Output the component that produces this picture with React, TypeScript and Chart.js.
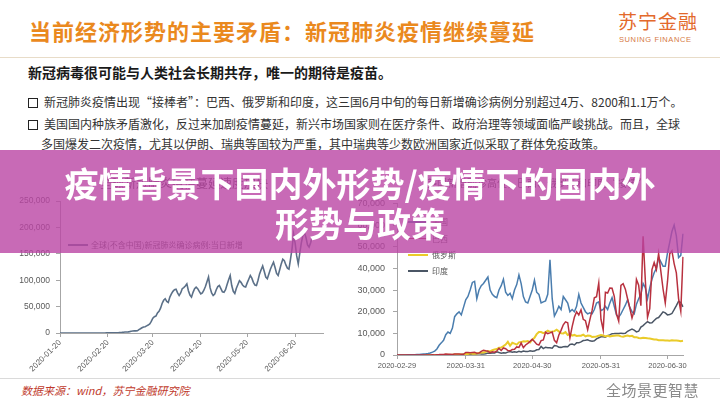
import React, { useEffect, useRef } from 'react';
import { Chart, registerables } from 'chart.js';

Chart.register(...registerables);

// ---------- data ----------
const LEFT_START = '2020-01-20';
const LEFT_END = '2020-07-08';
const LEFT_TICK_DATES = ['2020-01-20', '2020-02-20', '2020-03-20', '2020-04-20', '2020-05-20', '2020-06-20'];
const LEFT_Y_TICKS = [0, 50000, 100000, 150000, 200000, 250000];

// 全球(不含中国)新冠肺炎确诊病例:当日新增, 2020-01-20 .. 2020-07-01
const globalDaily = [
  1, 2, 3, 5, 8, 10, 13, 15, 12, 20,
  25, 30, 20, 15, 18, 25, 30, 35, 45, 20,
  40, 25, 45, 80, 60, 50, 40, 120, 90, 100,
  150, 200, 250, 300, 350, 450, 400, 500, 700, 1000,
  1200, 1500, 1800, 2000, 2200, 2600, 3300, 3700, 4000, 4000,
  4200, 6500, 8000, 10000, 11500, 12000, 13500, 15000, 17000, 22000,
  28000, 31000, 32000, 38000, 41000, 47000, 56000, 62000, 65000, 60000,
  58000, 68000, 74000, 79000, 82000, 83000, 76000, 71000, 76000, 84000,
  86000, 89000, 93000, 80000, 72000, 68000, 77000, 84000, 87000, 84000,
  79000, 74000, 76000, 81000, 88000, 97000, 106000, 86000, 76000, 71000,
  74000, 82000, 88000, 90000, 84000, 78000, 77000, 82000, 92000, 101000,
  109000, 90000, 79000, 75000, 85000, 92000, 99000, 96000, 91000, 88000,
  87000, 95000, 102000, 109000, 104000, 96000, 91000, 90000, 100000, 112000,
  120000, 127000, 117000, 106000, 103000, 112000, 121000, 128000, 134000, 124000,
  113000, 109000, 120000, 131000, 140000, 137000, 129000, 123000, 121000, 140000,
  160000, 187000, 170000, 146000, 131000, 152000, 171000, 185000, 190000, 181000,
  167000, 163000, 171000, 182000,
];

const RIGHT_START = '2020-02-29';
const RIGHT_END = '2020-07-07';
const RIGHT_TICK_DATES = ['2020-02-29', '2020-03-31', '2020-04-30', '2020-05-31', '2020-06-30'];
const RIGHT_Y_TICKS = [0, 10000, 20000, 30000, 40000, 50000, 60000, 70000];

const usDaily = [
  10,
  15, 20, 25, 30, 60, 80, 100, 120, 180, 250, 350, 450, 550, 700, 900, 1300, 1800, 2800, 4500, 5600,
  6800, 9400, 10600, 10000, 12400, 17700, 19000, 19900, 18500, 22000, 25500,
  27000, 30000, 33500, 34000, 26000, 30000, 32000, 33000, 34500, 36000,
  30000, 28000, 27000, 26500, 30000, 32000, 35000, 29000, 27500, 28500,
  26000, 30000, 32500, 37000, 33000, 27000, 24500, 24000, 27000, 30000,
  34500, 29000, 28000, 24000, 24500, 25000, 28000, 44000, 26000, 18000,
  20000, 22500, 21000, 27000, 25500, 24000, 20000, 21000, 20000, 22500,
  28000, 24000, 22000, 20000, 19000, 19500, 19000, 21000, 24000, 24500, 20500,
  21000, 22500, 21000, 24000, 26500, 22500, 18500, 17500, 19000, 21000,
  23000, 25500, 22000, 20000, 19000, 23500, 26000, 28000, 33000, 31000,
  26000, 31000, 35000, 38000, 40000, 45000, 43000, 41000, 41000, 47000,
  52000, 57000, 60000, 55000, 45000, 46000, 56000,
];

const brazilDaily = [
  0,
  0, 0, 0, 0, 4, 5, 6, 5, 5, 10, 14, 20, 46, 30, 41, 66, 57, 137, 193, 283,
  224, 418, 345, 310, 232, 482, 502, 487, 352, 323, 1138,
  1119, 1074, 1146, 1222, 852, 926, 1661, 2210, 1930, 1781,
  1089, 1442, 1261, 1832, 3058, 2105, 3257, 2917, 2055, 1927,
  2498, 2678, 3735, 3503, 5514, 3379, 4613, 5385, 6276, 7218,
  6209, 4970, 4588, 6633, 6935, 10503, 9888, 10222, 10611, 6760,
  5632, 9258, 11385, 13944, 15305, 14919, 7938, 13140, 17408, 19951,
  18508, 20803, 16508, 15813, 11687, 16324, 20599, 26417, 26928, 33274, 16409,
  11598, 28936, 28633, 30925, 30830, 27075, 18912, 15654, 32091, 32913,
  30412, 25982, 21704, 17110, 20647, 34918, 32188, 22765, 54771, 34666,
  17459, 21432, 39436, 42725, 39483, 46907, 38693, 30476, 24052, 33846,
  46712, 48105, 42223, 37923, 26051, 20229, 45305,
];

const russiaDaily = [
  0,
  0, 1, 0, 0, 0, 0, 4, 3, 0, 0, 8, 6, 11, 14, 4, 30, 21, 33, 52, 54,
  53, 62, 71, 57, 163, 182, 196, 228, 270, 302, 500,
  440, 771, 601, 582, 658, 954, 1154, 1175, 1459, 1786,
  1667, 2186, 2558, 2774, 3388, 3448, 4070, 4785, 6060, 4268,
  5642, 5236, 4774, 5849, 5966, 6361, 6198, 6411, 5841, 7099,
  7933, 9623, 10633, 10581, 10102, 10559, 11231, 10699, 10817, 11012,
  11656, 10899, 10028, 9974, 10598, 9200, 9709, 8926, 9263, 8764,
  8849, 8894, 9434, 8599, 8946, 8915, 8338, 8371, 8572, 8952, 9268,
  9035, 8536, 8831, 8536, 8726, 8855, 8984, 8985, 8595, 8404,
  8779, 8987, 8706, 8835, 8246, 8248, 7843, 7790, 7972, 7889,
  7728, 7600, 7425, 7176, 7113, 6800, 6852, 6791, 6719, 6693,
  6556, 6760, 6718, 6736, 6611, 6368, 6562,
];

const indiaDaily = [
  0,
  0, 1, 0, 23, 1, 2, 3, 5, 4, 11, 12, 7, 9, 10, 24, 15, 25, 29, 54, 92,
  64, 81, 64, 134, 72, 137, 157, 149, 174, 227, 146,
  437, 235, 478, 525, 505, 704, 508, 485, 591, 896,
  768, 918, 905, 1463, 1118, 826, 1076, 957, 1324, 1580,
  1239, 1537, 1292, 1667, 1408, 1835, 1607, 1568, 1902, 1705,
  1801, 2396, 2564, 3932, 2963, 3587, 3364, 3344, 3113, 4353,
  4213, 3607, 3524, 3763, 3942, 3787, 4864, 5050, 4630, 5611,
  5609, 6088, 6654, 6767, 6977, 6535, 6387, 6566, 7466, 7964, 8380,
  8392, 8171, 8909, 9304, 9851, 9887, 9971, 9983, 9987, 9985,
  9996, 10956, 11458, 11929, 11502, 10667, 10974, 12881, 13586, 14516,
  15413, 14821, 14933, 15968, 16922, 17296, 18552, 19906, 19459, 18522,
  18653, 19148, 20903, 22771, 24850, 24248, 22252,
];

const RIGHT_SERIES = ['美国', '巴西', '俄罗斯', '印度'];
const RIGHT_COLORS = ['#4A7DAE', '#B8313F', '#EACB2A', '#4B5665'];
const LEFT_SERIES = '全球(不含中国)新冠肺炎确诊病例:当日新增';
const LEFT_COLOR = '#5B7088';

// ---------- helpers ----------
function dateRange(start: string, end: string): string[] {
  const out: string[] = [];
  const d = new Date(start + 'T00:00:00Z');
  const e = new Date(end + 'T00:00:00Z');
  while (d <= e) {
    out.push(d.toISOString().slice(0, 10));
    d.setUTCDate(d.getUTCDate() + 1);
  }
  return out;
}

const AXIS_FONT = "'Liberation Sans', 'Noto Sans CJK SC', sans-serif";
const CJK = "'Noto Sans CJK SC', 'Liberation Sans', sans-serif";
const AXIS_COLOR = '#A6A6A6';
const TICK_TEXT = '#595959';

function LeftChart() {
  const ref = useRef<HTMLCanvasElement>(null);
  useEffect(() => {
    const labels = dateRange(LEFT_START, LEFT_END);
    const show = (i: number) => LEFT_TICK_DATES.includes(labels[i]);
    const chart = new Chart(ref.current!, {
      type: 'line',
      data: {
        labels,
        datasets: [
          {
            label: LEFT_SERIES,
            data: globalDaily,
            borderColor: LEFT_COLOR,
            borderWidth: 1.6,
            pointRadius: 0,
            tension: 0,
          },
        ],
      },
      options: {
        animation: false,
        responsive: false,
        devicePixelRatio: 1,
        layout: { padding: { top: 9, right: 17, left: 0, bottom: 0 } },
        plugins: { legend: { display: false }, tooltip: { enabled: false } },
        scales: {
          x: {
            type: 'category',
            offset: false,
            grid: {
              display: true,
              drawOnChartArea: false,
              drawTicks: true,
              tickLength: 4,
              tickColor: (c: any) => (show(c.index) ? AXIS_COLOR : 'rgba(0,0,0,0)'),
            },
            border: { display: true, color: AXIS_COLOR, width: 1 },
            ticks: {
              autoSkip: false,
              maxRotation: 45,
              minRotation: 45,
              padding: 1,
              color: TICK_TEXT,
              font: { family: AXIS_FONT, size: 8 },
              callback: (_v: any, i: number) => (show(i) ? labels[i] : ''),
            },
            afterFit: (s: any) => {
              s.height = 47;
            },
          },
          y: {
            min: 0,
            max: 250000,
            afterBuildTicks: (s: any) => {
              s.ticks = LEFT_Y_TICKS.map((v) => ({ value: v }));
            },
            grid: { drawOnChartArea: false, drawTicks: true, tickLength: 4, tickColor: AXIS_COLOR },
            border: { display: true, color: AXIS_COLOR, width: 1 },
            ticks: {
              padding: 6,
              color: TICK_TEXT,
              font: { family: AXIS_FONT, size: 8.5 },
              callback: (v: any) => Number(v).toLocaleString('en-US'),
            },
            afterFit: (s: any) => {
              s.width = 60;
            },
          },
        },
      },
    } as any);
    return () => chart.destroy();
  }, []);
  return (
    <canvas
      ref={ref}
      width={340}
      height={190}
      style={{ position: 'absolute', left: 0, top: 190, width: 340, height: 190 }}
    />
  );
}

function RightChart() {
  const ref = useRef<HTMLCanvasElement>(null);
  useEffect(() => {
    const labels = dateRange(RIGHT_START, RIGHT_END);
    const show = (i: number) => RIGHT_TICK_DATES.includes(labels[i]);
    const series = [usDaily, brazilDaily, russiaDaily, indiaDaily];
    const widths = [1.5, 1.5, 2, 1.5];
    const chart = new Chart(ref.current!, {
      type: 'line',
      data: {
        labels,
        datasets: series.map((d, k) => ({
          label: RIGHT_SERIES[k],
          data: d,
          borderColor: RIGHT_COLORS[k],
          borderWidth: widths[k],
          pointRadius: 0,
          tension: 0,
          order: k === 1 ? 0 : k + 1,
        })),
      },
      options: {
        animation: false,
        responsive: false,
        devicePixelRatio: 1,
        layout: { padding: { top: 9, right: 37, left: 0, bottom: 0 } },
        plugins: { legend: { display: false }, tooltip: { enabled: false } },
        scales: {
          x: {
            type: 'category',
            offset: false,
            grid: {
              display: true,
              drawOnChartArea: false,
              drawTicks: true,
              tickLength: 4,
              tickColor: (c: any) => (show(c.index) ? AXIS_COLOR : 'rgba(0,0,0,0)'),
            },
            border: { display: true, color: AXIS_COLOR, width: 1 },
            ticks: {
              autoSkip: false,
              maxRotation: 0,
              minRotation: 0,
              padding: 2,
              color: TICK_TEXT,
              font: { family: AXIS_FONT, size: 7.5 },
              callback: (_v: any, i: number) => (show(i) ? labels[i] : ''),
            },
            afterFit: (s: any) => {
              s.height = 25;
            },
          },
          y: {
            min: 0,
            max: 70000,
            afterBuildTicks: (s: any) => {
              s.ticks = RIGHT_Y_TICKS.map((v) => ({ value: v }));
            },
            grid: { drawOnChartArea: false, drawTicks: true, tickLength: 4, tickColor: AXIS_COLOR },
            border: { display: true, color: AXIS_COLOR, width: 1 },
            ticks: {
              padding: 8,
              color: TICK_TEXT,
              font: { family: AXIS_FONT, size: 9 },
              callback: (v: any) => Number(v).toLocaleString('en-US'),
            },
            afterFit: (s: any) => {
              s.width = 57;
            },
          },
        },
      },
    } as any);
    return () => chart.destroy();
  }, []);
  return (
    <canvas
      ref={ref}
      width={380}
      height={190}
      style={{ position: 'absolute', left: 340, top: 190, width: 380, height: 190 }}
    />
  );
}

const abs = (o: React.CSSProperties): React.CSSProperties => ({ position: 'absolute', whiteSpace: 'nowrap', ...o });

function Bullet() {
  return (
    <span
      style={{
        display: 'inline-block',
        width: 8,
        height: 8,
        border: '1.6px solid #222',
        marginRight: 6,
        verticalAlign: '-1px',
      }}
    />
  );
}

export default function App() {
  return (
    <div
      style={{
        position: 'fixed',
        left: 0,
        top: 0,
        width: 720,
        height: 405,
        overflow: 'hidden',
        background: '#ffffff',
        fontFamily: CJK,
      }}
    >
      {/* header */}
      <div style={abs({ left: 29, top: 16, fontSize: 22, lineHeight: '28px', fontWeight: 700, color: '#EA891E', letterSpacing: 1 })}>
        当前经济形势的主要矛盾：新冠肺炎疫情继续蔓延
      </div>
      <div style={abs({ left: 618, top: 10, fontSize: 19, lineHeight: '22px', color: '#E3692B', letterSpacing: 1 })}>苏宁金融</div>
      <div style={abs({ left: 619, top: 35, fontSize: 7.5, lineHeight: '9px', color: '#D67A45', letterSpacing: 0.6, fontFamily: AXIS_FONT })}>
        SUNING FINANCE
      </div>
      <div style={abs({ left: 0, top: 57, width: 720, height: 1, background: '#E8DCC8' })} />

      {/* body text */}
      <div style={abs({ left: 28, top: 63, fontSize: 14, lineHeight: '18px', fontWeight: 700, color: '#1a1a1a' })}>
        新冠病毒很可能与人类社会长期共存，唯一的期待是疫苗。
      </div>
      <div style={abs({ left: 28, top: 93, fontSize: 12, lineHeight: '18px', color: '#333' })}>
        <Bullet />
        新冠肺炎疫情出现“接棒者”：巴西、俄罗斯和印度，这三国6月中旬的每日新增确诊病例分别超过4万、8200和1.1万个。
      </div>
      <div style={abs({ left: 28, top: 115, fontSize: 12, lineHeight: '18px', color: '#333' })}>
        <Bullet />
        美国国内种族矛盾激化，反过来加剧疫情蔓延，新兴市场国家则在医疗条件、政府治理等领域面临严峻挑战。而且，全球
      </div>
      <div style={abs({ left: 41, top: 135, fontSize: 12, lineHeight: '18px', color: '#333' })}>
        多国爆发二次疫情，尤其以伊朗、瑞典等国较为严重，其中瑞典等少数欧洲国家近似采取了群体免疫政策。
      </div>

      {/* charts */}
      <LeftChart />
      <RightChart />

      {/* chart titles & legends */}
      <div style={abs({ left: 100, top: 175, fontSize: 12, lineHeight: '16px', color: '#444' })}>全球新冠肺炎疫情蔓延速度加快</div>
      <div style={abs({ left: 427, top: 175, fontSize: 10, lineHeight: '16px', color: '#444' })}>
        美国新增确诊高位，巴西、俄罗斯和印度“接棒”
      </div>
      <div style={abs({ left: 68, top: 244, width: 20, height: 1.5, background: LEFT_COLOR })} />
      <div style={abs({ left: 91, top: 239, fontSize: 8, lineHeight: '12px', color: TICK_TEXT })}>{LEFT_SERIES}</div>
      {RIGHT_SERIES.map((name, k) => {
        const y = [222, 238.5, 255, 271][k];
        return (
          <React.Fragment key={name}>
            <div style={abs({ left: 408, top: y - 1, width: 20, height: k === 2 ? 2 : 1.5, background: RIGHT_COLORS[k] })} />
            <div style={abs({ left: 432, top: y - 6, fontSize: 8, lineHeight: '12px', color: TICK_TEXT })}>{name}</div>
          </React.Fragment>
        );
      })}

      {/* overlay banner */}
      <div style={abs({ left: 0, top: 150, width: 720, height: 103, background: 'rgba(186,69,164,0.8)' })} />
      <div
        style={abs({
          left: 0,
          top: 163,
          width: 720,
          textAlign: 'center',
          fontSize: 34,
          lineHeight: '40px',
          fontWeight: 700,
          color: '#ffffff',
          whiteSpace: 'normal',
        })}
      >
        <div>疫情背景下国内外形势/疫情下的国内外</div>
        <div>形势与政策</div>
      </div>

      {/* footer */}
      <div style={abs({ left: 0, top: 378, width: 720, height: 1, background: '#DADADA' })} />
      <div style={abs({ left: 21, top: 382, fontSize: 11, lineHeight: '16px', fontStyle: 'italic', color: '#C0392B' })}>
        数据来源：wind，苏宁金融研究院
      </div>
      <div style={abs({ left: 606, top: 381, fontSize: 15, lineHeight: '18px', color: '#8a8a8a', letterSpacing: 0.5 })}>全场景更智慧</div>
    </div>
  );
}
